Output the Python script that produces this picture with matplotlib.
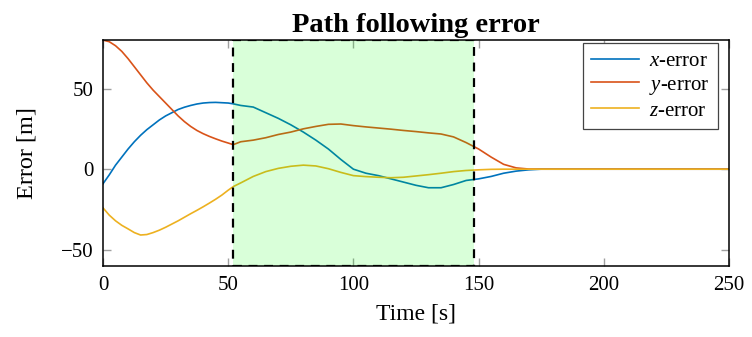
import matplotlib
matplotlib.use("Agg")
import matplotlib.pyplot as plt

plt.rcParams["font.family"] = ["Liberation Serif", "DejaVu Serif"]
plt.rcParams["mathtext.fontset"] = "custom"
plt.rcParams["mathtext.it"] = "Liberation Serif:italic"
plt.rcParams["mathtext.rm"] = "Liberation Serif"

# sampled errors of the tracked path
time = [0, 2.5, 5, 7.5, 10, 12.5, 15, 17.5, 20, 22.5, 25, 27.5, 30, 32.5,
        35, 37.5, 40, 42.5, 45, 47.5, 50, 52, 55, 60, 65, 70, 75, 80, 85,
        90, 95, 100, 105, 110, 115, 120, 125, 130, 135, 140, 145, 150, 155,
        160, 165, 170, 175, 180, 250]
x_error = [-9, -3.5, 2.5, 7.5, 12.5, 17, 21, 24.5, 27.5, 30.5, 33, 35, 37,
           38.4, 39.5, 40.4, 41, 41.3, 41.4, 41.2, 41, 40.5, 39.5, 38.5, 35,
           31.5, 27.5, 23, 18, 12.5, 6, 0, -2.5, -4, -6, -8, -10, -11.5,
           -11.5, -9.5, -7, -6, -4.5, -2.5, -1.2, -0.4, 0, 0, 0]
y_error = [80, 79, 76.5, 73, 68.5, 63.5, 58.5, 53.5, 49, 45, 41, 37, 33,
           29.5, 26.5, 24, 22, 20.3, 18.8, 17.4, 16.2, 15.2, 17, 18, 19.5,
           21.5, 23, 25, 26.5, 27.8, 28, 27, 26.2, 25.5, 24.8, 24, 23.3, 22.5,
           21.8, 20, 16.5, 12.5, 7.5, 3, 0.8, 0.1, 0, 0, 0]
z_error = [-24, -28.5, -32, -34.8, -37, -39.3, -40.8, -40.5, -39.3, -37.8,
           -36, -34, -32, -29.8, -27.6, -25.5, -23.3, -21, -18.6, -16, -13,
           -10.8, -8.5, -4.5, -1.5, 0.5, 1.8, 2.5, 2, 0.3, -2, -4, -4.6, -5,
           -5.3, -5, -4.2, -3.4, -2.5, -1.5, -0.8, -0.4, -0.1, 0, 0, 0, 0, 0,
           0]

region = [52, 148]

fig = plt.figure(figsize=(7.52, 3.37), dpi=100)
ax = fig.add_axes([0.137, 0.2107, 0.8324, 0.6703])

ax.plot(time, x_error, color="#0072BD", lw=1.2, label="$x$-error")
ax.plot(time, y_error, color="#D95319", lw=1.2, label="$y$-error")
ax.plot(time, z_error, color="#EDB120", lw=1.2, label="$z$-error")

ax.axvspan(region[0], region[1], ymin=0, ymax=1, facecolor=(0, 1, 0, 0.15),
           edgecolor="black", linestyle=(0, (4, 3)), lw=1.6, zorder=5)

ax.set_xlim(0, 250)
ax.set_ylim(-60, 80)
ax.set_xticks([0, 50, 100, 150, 200, 250])
ax.set_yticks([-50, 0, 50])
ax.tick_params(direction="in", length=6, width=1, color="#a0a0a0",
               top=True, right=True, labelsize=15, pad=7)
for s in ax.spines.values():
    s.set_linewidth(1.1)
    s.set_zorder(6)

ax.set_xlabel("Time [s]", fontsize=17, labelpad=6)
ax.set_ylabel("Error [m]", fontsize=17.5, labelpad=17)
ax.set_title("Path following error", fontsize=20.5, fontweight="bold", pad=6)

leg = ax.legend(loc="upper right", bbox_to_anchor=(0.9824, 0.9867),
                borderaxespad=0, fontsize=15, frameon=True, fancybox=False,
                edgecolor="#444444", handlelength=2.3, handletextpad=0.5,
                borderpad=0.4, labelspacing=0.2, framealpha=1)
leg.get_frame().set_linewidth(0.9)
leg.set_zorder(7)

fig.savefig("out.png", dpi=100)
